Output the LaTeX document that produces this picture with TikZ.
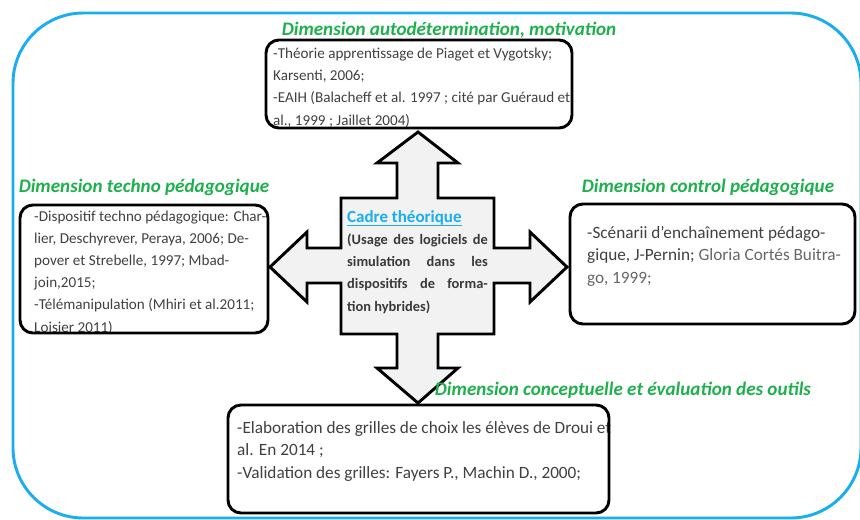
\documentclass[tikz,border=0pt]{standalone}
\usepackage{fontspec}
\setmainfont{Carlito}
\usetikzlibrary{fit}

\definecolor{frameblue}{HTML}{1AADEF}
\definecolor{dimgreen}{HTML}{1DB04C}
\definecolor{textgray}{HTML}{404040}
\definecolor{crossfill}{HTML}{F2F2F2}

\newsavebox\cadrebox
\newcommand\blueuline[1]{\sbox\cadrebox{#1}\rlap{\usebox\cadrebox}\rule[-2.2pt]{\wd\cadrebox}{0.7pt}}

\begin{document}
\begin{tikzpicture}[x=0.03cm, y=-0.03cm,
	dimtitle/.style={text=dimgreen, font=\fontsize{16.3}{18}\selectfont\bfseries\itshape, inner sep=0pt, anchor=base},
	dimbox/.style={draw, line width=2.5pt, rounded corners=11pt, inner sep=0pt},
	boxtext/.style={text=textgray, font=\fontsize{12.9}{18.8}\selectfont, align=left, inner sep=0pt, anchor=base west},
	bigtext/.style={boxtext, font=\fontsize{14.7}{19.2}\selectfont}]

\useasboundingbox (0,0) rectangle (860,519);

% cadre exterieur
\draw[frameblue, line width=2.5pt, rounded corners=60pt] (13,13) rectangle (861,518);

% croix centrale
\draw[line width=2.5pt, fill=crossfill, line join=miter]
	(418,132) -- (458,163) -- (438,163) -- (438,198) -- (494,198) -- (494,248) --
	(530,248) -- (530,232) -- (567,267) -- (530,302) -- (530,283) -- (494,283) --
	(494,334) -- (438,334) -- (438,368) -- (458,368) -- (418,403) -- (377,368) --
	(397,368) -- (397,334) -- (341,334) -- (341,283) -- (307,283) -- (307,302) --
	(270,267) -- (307,232) -- (307,248) -- (341,248) -- (341,198) -- (397,198) --
	(397,163) -- (377,163) -- cycle;

% base = derniere ligne
\node[boxtext, text=textgray!90!black, font=\fontsize{12.3}{18.8}\selectfont\bfseries] (cadreText) at (347,311)
	{{\fontsize{14.5}{18.8}\selectfont\color{frameblue}\blueuline{Cadre théorique}}\\
	\makebox[120pt][s]{(Usage des logiciels de}\\
	\makebox[120pt][s]{simulation dans les}\\
	\makebox[120pt][s]{dispositifs de forma-}\\
	tion hybrides)};

% titres des dimensions
\node[dimtitle] (autoTitle) at (449,35) {Dimension autodétermination, motivation};
\node[dimtitle] (technoTitle) at (144,192) {Dimension techno pédagogique};
\node[dimtitle] (controlTitle) at (708,192) {Dimension control pédagogique};
\node[dimtitle] (conceptTitle) at (623,395) {Dimension conceptuelle et évaluation des outils};

% textes
\node[boxtext] (autoText) at (273,125)
	{-Théorie apprentissage de Piaget et Vygotsky;\\
	Karsenti, 2006;\\
	-EAIH (Balacheff et al. 1997 ; cité par Guéraud et\\
	al., 1999 ; Jaillet 2004)};
\node[boxtext] (technoText) at (34,332)
	{-Dispositif techno pédagogique: Char-\\
	lier, Deschyrever, Peraya, 2006; De-\\
	pover et Strebelle, 1997; Mbad-\\
	join,2015;\\
	-Télémanipulation (Mhiri et al.2011;\\
	Loisier 2011)};
\node[bigtext] (controlText) at (587,283)
	{-Scénarii d’enchaînement pédago-\\
	gique, J-Pernin; \textcolor{textgray!80}{Gloria Cortés Buitra-}\\
	\textcolor{textgray!80}{go, 1999;}};
\node[bigtext] (conceptText) at (237,478)
	{-Elaboration des grilles de choix les élèves de Droui et\\
	al. En 2014 ;\\
	-Validation des grilles: Fayers P., Machin D., 2000;};

% cadres
\node[dimbox, fit={(266,40) (572,128)}] (autoBox) {};
\node[dimbox, fit={(20,205) (268,333)}] (technoBox) {};
\node[dimbox, fit={(570,204) (855,324)}] (controlBox) {};
\node[dimbox, fit={(228,405) (609,513)}] (conceptBox) {};

\end{tikzpicture}
\end{document}
